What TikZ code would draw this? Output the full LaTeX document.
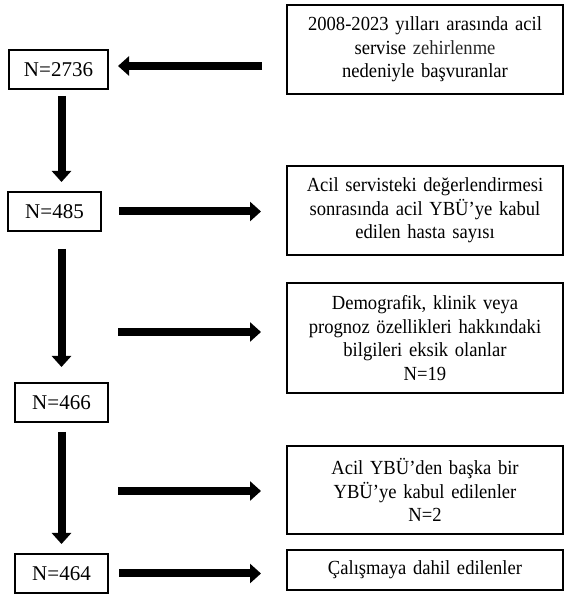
\documentclass[tikz,border=0pt]{standalone}
\usepackage{fontspec}
\setmainfont{Liberation Serif}
\newfontfamily\boxfont{Liberation Serif}[FakeStretch=0.93]
\usetikzlibrary{arrows.meta}

\tikzset{
    box/.style={draw, line width=2pt, align=center, inner sep=0pt},
    rbox/.style={box, minimum width=276pt, text width=266pt, font=\boxfont\fontsize{20}{23.5}\selectfont},
    lbox/.style={box, minimum width=93pt, minimum height=39pt, font=\fontsize{21}{24}\selectfont},
    bigarrow/.style={line width=8pt, -{Triangle[length=11pt,width=19pt]}}
}

\begin{document}
\begin{tikzpicture}[x=1pt,y=1pt]
    \useasboundingbox (0,0) rectangle (565,594);

    % right column
    \node[rbox, minimum height=89pt] (b1) at (425,544.5)
        {2008-2023 yılları arasında acil\\ servise \textcolor{black!85}{zehirlenme}\\ nedeniyle başvuranlar};
    \node[rbox, minimum height=89pt] (b2) at (425,383.5)
        {Acil servisteki değerlendirmesi\\ sonrasında acil YBÜ’ye kabul\\ edilen hasta sayısı};
    \node[rbox, minimum height=110pt] (b3) at (425,256)
        {Demografik, klinik veya\\ prognoz özellikleri hakkındaki\\ bilgileri eksik olanlar\\ N=19};
    \node[rbox, minimum height=88pt] (b4) at (425,104)
        {Acil YBÜ’den başka bir\\ YBÜ’ye kabul edilenler\\ N=2};
    \node[rbox, minimum height=40pt] (b5) at (425,24)
        {Çalışmaya dahil edilenler};

    % left column
    \node[lbox, minimum width=99pt] (n1) at (58.5,524.5) {N=2736};
    \node[lbox] (n2) at (54.5,382.5) {N=485};
    \node[lbox] (n3) at (61.5,191.5) {N=466};
    \node[lbox] (n4) at (61.5,20.5) {N=464};

    \coordinate (axis) at (61.5,0);
    \coordinate (c3) at (118,262);
    \coordinate (c4) at (118,103);

    % horizontal arrows
    \draw[bigarrow, shorten <=24pt, shorten >=9pt] ([yshift=3.5pt]n1.east -| b1.west) -- ([yshift=3.5pt]n1.east);
    \draw[bigarrow, shorten <=17pt, shorten >=25pt] (n2.east) -- (n2.east -| b2.west);
    \draw[bigarrow, shorten >=25pt] (c3) -- (c3 -| b3.west);
    \draw[bigarrow, shorten >=25pt] (c4) -- (c4 -| b4.west);
    \draw[bigarrow, shorten <=10pt, shorten >=25pt] (n4.east) -- (n4.east -| b5.west);

    % vertical arrows
    \draw[bigarrow, shorten <=6pt, shorten >=9pt] (n1.south -| axis) -- (n2.north -| axis);
    \draw[bigarrow, shorten <=17pt, shorten >=15pt] (n2.south -| axis) -- (n3.north -| axis);
    \draw[bigarrow, shorten <=9pt, shorten >=9pt] (n3.south -| axis) -- (n4.north -| axis);

\end{tikzpicture}
\end{document}
